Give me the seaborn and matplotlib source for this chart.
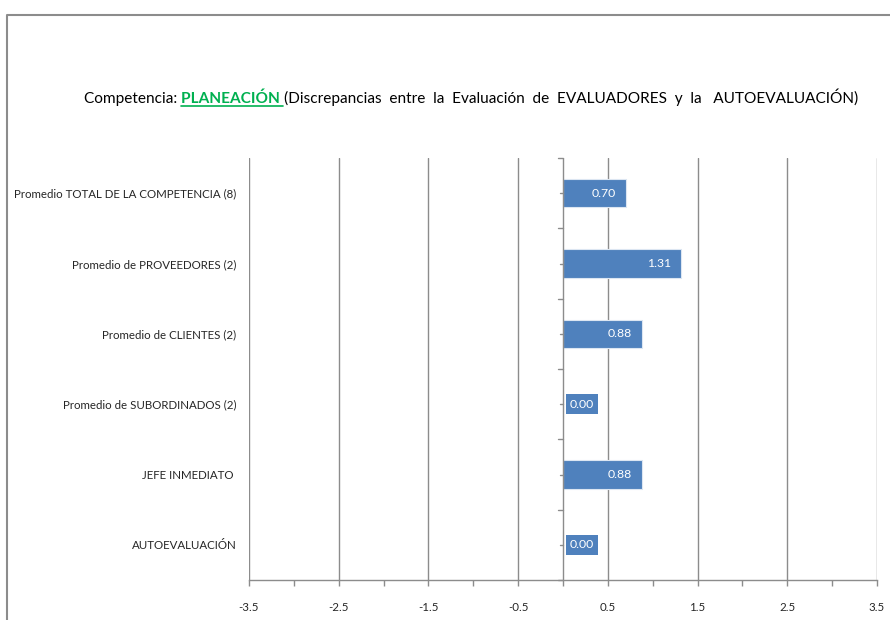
import numpy as np
import pandas as pd
import seaborn as sns
import matplotlib
matplotlib.use("Agg")
from matplotlib import pyplot as plt
from matplotlib.lines import Line2D
from matplotlib.ticker import MultipleLocator

categorias = ["Promedio TOTAL DE LA COMPETENCIA (8)", "Promedio de PROVEEDORES (2)",
              "Promedio de CLIENTES (2)", "Promedio de SUBORDINADOS (2)",
              "JEFE INMEDIATO ", "AUTOEVALUACIÓN"]
valores = [0.70, 1.31, 0.88, 0.00, 0.88, 0.00]
ticks_x = [-3.5, -2.5, -1.5, -0.5, 0.5, 1.5, 2.5, 3.5]

df = pd.DataFrame({"Categoria": categorias, "Valor": valores})

sns.set_theme(style="white")
plt.rcParams['font.family'] = ['Lato', 'DejaVu Sans']

azul = "#4F81BD"
gris = "#8C8C8C"

fig = plt.figure(figsize=(8.9, 6.2), dpi=100)
ax = fig.add_axes([249/890, 40/620, 628/890, 422/620])

sns.barplot(data=df, x="Valor", y="Categoria", orient="h", color=azul, width=0.4,
            edgecolor="#DCE6F2", linewidth=0.8, saturation=1, ax=ax)

ax.set_xlim(-3.5, 3.5)
ax.set_ylim(5.5, -0.5)
ax.set_xticks(ticks_x)
ax.set_xticklabels([f"{t:.1f}" for t in ticks_x])
ax.xaxis.set_minor_locator(MultipleLocator(1.0))
ax.tick_params(axis="x", which="both", direction="out", length=4, color=gris,
               width=1, labelsize=8.3, pad=12, bottom=True)
ax.tick_params(axis="y", length=0, labelsize=8.3, pad=9)
ax.set_xlabel("")
ax.set_ylabel("")

for s in ["top", "right", "left"]:
    ax.spines[s].set_visible(False)
ax.spines["bottom"].set_color(gris)
ax.spines["bottom"].set_linewidth(1)

for t in ticks_x:
    ax.axvline(t, color=gris, lw=1, zorder=0)

# eje vertical en cero con marcas
ax.axvline(0, color=gris, lw=1, zorder=3)
for b in np.arange(-0.5, 6.0, 1.0):
    ax.plot([-0.06, 0], [b, b], color=gris, lw=1, zorder=3, clip_on=False)
for c in range(len(categorias)):
    ax.plot([-0.035, 0], [c, c], color=gris, lw=1, zorder=3)

for i, v in enumerate(valores):
    if v > 0:
        ax.annotate(f"{v:.2f}", xy=(v, i), xytext=(-7, 0), textcoords="offset points",
                    ha="right", va="center", color="white", fontsize=8.8, zorder=5)
    else:
        ax.annotate(f"{v:.2f}", xy=(v, i), xytext=(5, 0), textcoords="offset points",
                    ha="left", va="center", color="white", fontsize=8.8, zorder=5,
                    bbox=dict(boxstyle="square,pad=0.35", fc=azul, ec="none"))

# titulo en tres partes
ty = 1 - 103/620
fs = 11.1
t1 = fig.text(84/890, ty, "Competencia: ", fontsize=fs, va="baseline", color="black")
t2 = fig.text(0, ty, "PLANEACIÓN ", fontsize=fs, fontweight="bold", color="#00B050",
              va="baseline")
fig.canvas.draw()
r = fig.canvas.get_renderer()
e1 = t1.get_window_extent(r)
t2.set_x(e1.x1/890)
fig.canvas.draw()
e2 = t2.get_window_extent(r)
t3 = fig.text(e2.x1/890, ty, "(Discrepancias  entre  la  Evaluación  de  EVALUADORES  y  la   AUTOEVALUACIÓN)",
              fontsize=fs, va="baseline", color="black")
uy = ty - 2.5/620
fig.add_artist(Line2D([e2.x0/890, (e2.x1 - 1)/890], [uy, uy],
                      transform=fig.transFigure, color="#00B050", lw=1.2))

# borde del grafico
fig.add_artist(Line2D([7/890, 7/890, 1], [0, 1 - 15/620, 1 - 15/620],
                      transform=fig.transFigure, color="#8C8C8C", lw=1.5))

fig.savefig("out.png", dpi=100)
